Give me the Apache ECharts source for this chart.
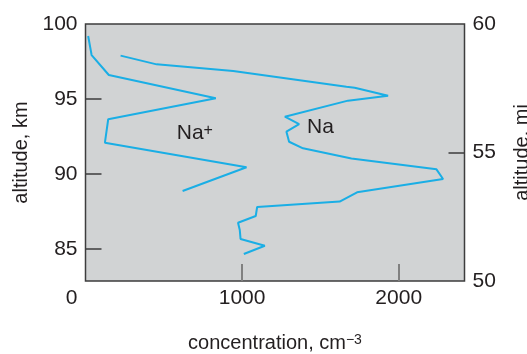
<!DOCTYPE html>
<html>
<head>
<meta charset="utf-8">
<script src="https://cdn.jsdelivr.net/npm/echarts@6/dist/echarts.min.js"></script>
<style>html,body{margin:0;padding:0;background:#fff}#c{width:527px;height:354px}</style>
</head>
<body>
<div id="c"></div>
<script>
// Na+ (ion) profile: [concentration cm^-3, altitude km]
const naIonConc = [17, 39, 149, 832, 145, 124, 1028, 620];
const naIonAlt  = [99.2, 97.93, 96.6, 95.05, 93.65, 92.09, 90.45, 88.87];
// Na (neutral) profile
const naConc = [224, 454, 943, 1666, 1719, 1932, 1676, 1273, 1364, 1283, 1300, 1389, 1698, 2241, 2283, 1734, 1623, 1096, 1087, 974, 985, 990, 1145, 1011];
const naAlt  = [97.89, 97.31, 96.87, 95.82, 95.75, 95.22, 94.89, 93.82, 93.33, 92.82, 92.15, 91.71, 91.04, 90.31, 89.67, 88.78, 88.16, 87.8, 87.2, 86.75, 86.27, 85.67, 85.22, 84.67];
const xTicks = [0, 1000, 2000];
const yTicksKm = [85, 90, 95, 100];
const yTicksMi = [50, 55, 60];

const FONT = 'Liberation Sans';
const TXT = '#231f20';
const LINE = '#1aaee5';
const toPairs = (xs, ys) => xs.map((x, i) => [x, ys[i]]);

const chart = echarts.init(document.getElementById('c'), null, {renderer: 'canvas'});
chart.setOption({
  animation: false,
  textStyle: {fontFamily: FONT, color: TXT},
  grid: {left: 85.5, right: 62.5, top: 24, bottom: 73, show: true, outerBoundsMode: 'none',
         backgroundColor: '#d1d3d4', borderColor: '#3d3d3d', borderWidth: 1.5, containLabel: false},
  xAxis: {
    type: 'value', min: 0, max: 2420,
    axisLine: {show: false},
    splitLine: {show: false},
    axisTick: {inside: true, length: 17, customValues: xTicks.slice(1), lineStyle: {color: '#808080', width: 2}},
    axisLabel: {customValues: xTicks, fontSize: 21, color: TXT, margin: 7, fontFamily: FONT,
      formatter: v => v === 0 ? '{z|0}' : String(v),
      rich: {z: {fontSize: 21, color: TXT, fontFamily: FONT, padding: [0, 28, 0, 0]}}},
    name: '{a|concentration, cm}{s|−3}', nameLocation: 'middle', nameGap: 52,
    nameTextStyle: {rich: {a: {fontSize: 20, color: TXT, fontFamily: FONT},
                           s: {fontSize: 14, color: TXT, fontFamily: FONT, verticalAlign: 'top'}}}
  },
  yAxis: [{
    type: 'value', min: 100 - (281 - 24) / 15, max: 100, position: 'left',
    axisLine: {show: false}, splitLine: {show: false},
    axisTick: {inside: true, length: 16, customValues: yTicksKm.slice(0, 3), lineStyle: {color: '#3d3d3d', width: 1.5}},
    axisLabel: {customValues: yTicksKm, fontSize: 21, color: TXT, margin: 8, fontFamily: FONT},
    name: 'altitude, km', nameLocation: 'middle', nameGap: 51, nameRotate: 90,
    nameTextStyle: {fontSize: 20, color: TXT, fontFamily: FONT}
  }, {
    type: 'value', min: 50, max: 60, position: 'right',
    axisLine: {show: false}, splitLine: {show: false},
    axisTick: {inside: true, length: 16, customValues: [55], lineStyle: {color: '#3d3d3d', width: 1.5}},
    axisLabel: {customValues: yTicksMi, fontSize: 21, color: TXT, margin: 8, fontFamily: FONT},
    name: 'altitude, mi', nameLocation: 'middle', nameGap: 48, nameRotate: 90,
    nameTextStyle: {fontSize: 20, color: TXT, fontFamily: FONT}
  }],
  series: [{
    type: 'line', data: toPairs(naIonConc, naIonAlt), showSymbol: false, symbol: 'none',
    lineStyle: {color: LINE, width: 2}, silent: true,
    markPoint: {symbol: 'circle', symbolSize: 0, silent: true,
      data: [{coord: [698, 92.73]}],
      label: {show: true, position: 'inside', formatter: '{a|Na}{s|+}',
        rich: {a: {fontSize: 21, color: TXT, fontFamily: FONT}, s: {fontSize: 16, color: TXT, fontFamily: FONT, verticalAlign: 'top'}}}}
  }, {
    type: 'line', data: toPairs(naConc, naAlt), showSymbol: false, symbol: 'none',
    lineStyle: {color: LINE, width: 2}, silent: true,
    markPoint: {symbol: 'circle', symbolSize: 0, silent: true,
      data: [{coord: [1500, 93.13]}],
      label: {show: true, position: 'inside', formatter: 'Na', fontSize: 21, color: TXT, fontFamily: FONT}}
  }]
});
</script>
</body>
</html>
